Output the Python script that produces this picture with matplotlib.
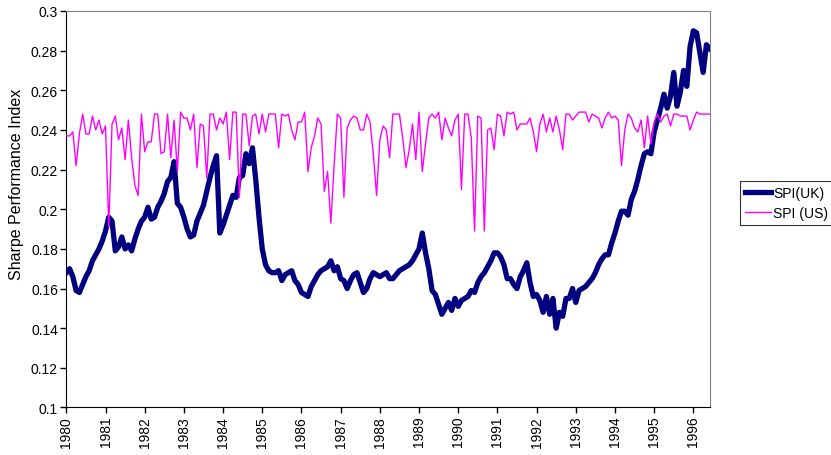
import numpy as np
import matplotlib
matplotlib.use("Agg")
import matplotlib.pyplot as plt

plt.rcParams['font.family'] = ['Liberation Sans', 'DejaVu Sans']

# monthly Sharpe performance index, Jan 1980 - Jun 1996
uk_spi = [
    0.168, 0.170, 0.166, 0.159, 0.158, 0.162, 0.166, 0.169, 0.174, 0.177, 0.180, 0.184,  # 1980
    0.189, 0.196, 0.194, 0.179, 0.181, 0.186, 0.180, 0.182, 0.179, 0.185, 0.190, 0.194,  # 1981
    0.196, 0.201, 0.195, 0.196, 0.201, 0.204, 0.208, 0.214, 0.216, 0.224, 0.203, 0.201,  # 1982
    0.196, 0.190, 0.186, 0.187, 0.194, 0.198, 0.202, 0.209, 0.216, 0.222, 0.227, 0.188,  # 1983
    0.192, 0.197, 0.202, 0.207, 0.206, 0.216, 0.217, 0.228, 0.223, 0.231, 0.215, 0.196,  # 1984
    0.180, 0.172, 0.169, 0.168, 0.168, 0.169, 0.164, 0.167, 0.168, 0.169, 0.164, 0.162,  # 1985
    0.158, 0.157, 0.156, 0.161, 0.164, 0.167, 0.169, 0.170, 0.171, 0.174, 0.169, 0.171,  # 1986
    0.165, 0.164, 0.160, 0.164, 0.167, 0.168, 0.163, 0.158, 0.160, 0.165, 0.168, 0.167,  # 1987
    0.166, 0.167, 0.168, 0.165, 0.165, 0.167, 0.169, 0.170, 0.171, 0.172, 0.174, 0.177,  # 1988
    0.180, 0.188, 0.178, 0.170, 0.159, 0.157, 0.152, 0.147, 0.150, 0.153, 0.149, 0.155,  # 1989
    0.151, 0.154, 0.155, 0.156, 0.159, 0.158, 0.163, 0.166, 0.168, 0.171, 0.174, 0.178,  # 1990
    0.178, 0.176, 0.172, 0.165, 0.165, 0.162, 0.160, 0.166, 0.169, 0.173, 0.163, 0.156,  # 1991
    0.157, 0.154, 0.148, 0.156, 0.147, 0.155, 0.140, 0.148, 0.146, 0.155, 0.155, 0.160,  # 1992
    0.153, 0.159, 0.160, 0.161, 0.163, 0.165, 0.168, 0.172, 0.175, 0.177, 0.177, 0.183,  # 1993
    0.188, 0.194, 0.199, 0.199, 0.197, 0.205, 0.209, 0.215, 0.222, 0.228, 0.229, 0.228,  # 1994
    0.239, 0.245, 0.251, 0.258, 0.251, 0.257, 0.269, 0.252, 0.259, 0.270, 0.262, 0.282,  # 1995
    0.290, 0.289, 0.279, 0.269, 0.283, 0.281,                                            # 1996
]

us_spi = [
    0.237, 0.237, 0.239, 0.222, 0.238, 0.248, 0.238, 0.238, 0.247, 0.240, 0.245, 0.238,  # 1980
    0.242, 0.191, 0.243, 0.247, 0.235, 0.241, 0.225, 0.245, 0.226, 0.212, 0.207, 0.248,  # 1981
    0.229, 0.234, 0.234, 0.248, 0.248, 0.228, 0.229, 0.248, 0.226, 0.245, 0.219, 0.249,  # 1982
    0.246, 0.246, 0.240, 0.248, 0.221, 0.243, 0.242, 0.216, 0.248, 0.248, 0.240, 0.246,  # 1983
    0.243, 0.249, 0.225, 0.249, 0.249, 0.206, 0.248, 0.248, 0.232, 0.247, 0.248, 0.238,  # 1984
    0.248, 0.239, 0.248, 0.248, 0.248, 0.231, 0.248, 0.247, 0.248, 0.240, 0.235, 0.244,  # 1985
    0.244, 0.249, 0.219, 0.231, 0.237, 0.246, 0.243, 0.209, 0.219, 0.193, 0.222, 0.248,  # 1986
    0.246, 0.206, 0.241, 0.245, 0.247, 0.246, 0.240, 0.240, 0.248, 0.244, 0.228, 0.207,  # 1987
    0.235, 0.242, 0.240, 0.226, 0.248, 0.248, 0.248, 0.236, 0.221, 0.230, 0.243, 0.225,  # 1988
    0.249, 0.219, 0.233, 0.246, 0.248, 0.246, 0.249, 0.235, 0.246, 0.241, 0.237, 0.245,  # 1989
    0.248, 0.210, 0.248, 0.248, 0.236, 0.189, 0.247, 0.246, 0.189, 0.240, 0.241, 0.230,  # 1990
    0.248, 0.247, 0.237, 0.249, 0.248, 0.249, 0.240, 0.243, 0.243, 0.243, 0.246, 0.239,  # 1991
    0.229, 0.243, 0.248, 0.239, 0.246, 0.239, 0.247, 0.240, 0.230, 0.248, 0.248, 0.245,  # 1992
    0.247, 0.249, 0.249, 0.249, 0.244, 0.248, 0.247, 0.246, 0.241, 0.246, 0.249, 0.246,  # 1993
    0.247, 0.245, 0.222, 0.240, 0.248, 0.246, 0.241, 0.239, 0.245, 0.231, 0.247, 0.233,  # 1994
    0.244, 0.248, 0.244, 0.247, 0.248, 0.242, 0.248, 0.248, 0.247, 0.247, 0.247, 0.240,  # 1995
    0.245, 0.249, 0.248, 0.248, 0.248, 0.248,                                            # 1996
]

years = list(range(1980, 1997))
yticks = [0.1, 0.12, 0.14, 0.16, 0.18, 0.2, 0.22, 0.24, 0.26, 0.28, 0.3]

t = 1980 + np.arange(len(uk_spi)) / 12.0

fig = plt.figure(figsize=(8.31, 4.56), dpi=100)
ax = fig.add_axes([0.0798, 0.1042, 0.7742, 0.8695])

ax.plot(t, uk_spi, color='#000080', lw=3.8, label='SPI(UK)', solid_joinstyle='round', zorder=2)
ax.plot(t, us_spi, color='#FF00FF', lw=1.0, label='SPI (US)', zorder=3)

ax.set_xlim(1980, t[-1])
ax.set_ylim(0.1, 0.3)
ax.set_yticks(yticks)
ax.set_yticklabels([f'{v:g}' for v in yticks])
ax.set_xticks(years)
ax.set_xticklabels([str(y) for y in years], rotation=90)
ax.tick_params(axis='both', direction='out', length=4, width=1, labelsize=10, color='black', pad=2)
ax.set_ylabel('Sharpe Performance Index', fontsize=11.5, va='center')
ax.yaxis.set_label_coords(-0.077, 0.566)

for side in ('top', 'right'):
    ax.spines[side].set_color('#808080')
for side in ('left', 'bottom'):
    ax.spines[side].set_color('black')

leg = fig.legend(loc='upper left', bbox_to_anchor=(740 / 831, 1 - 182 / 456),
                 frameon=True, fancybox=False, edgecolor='black', fontsize=10,
                 handlelength=1.9, handletextpad=0.15, borderpad=0.35,
                 labelspacing=0.45, borderaxespad=0)
leg.get_frame().set_linewidth(0.8)

fig.savefig('out.png', dpi=100)
